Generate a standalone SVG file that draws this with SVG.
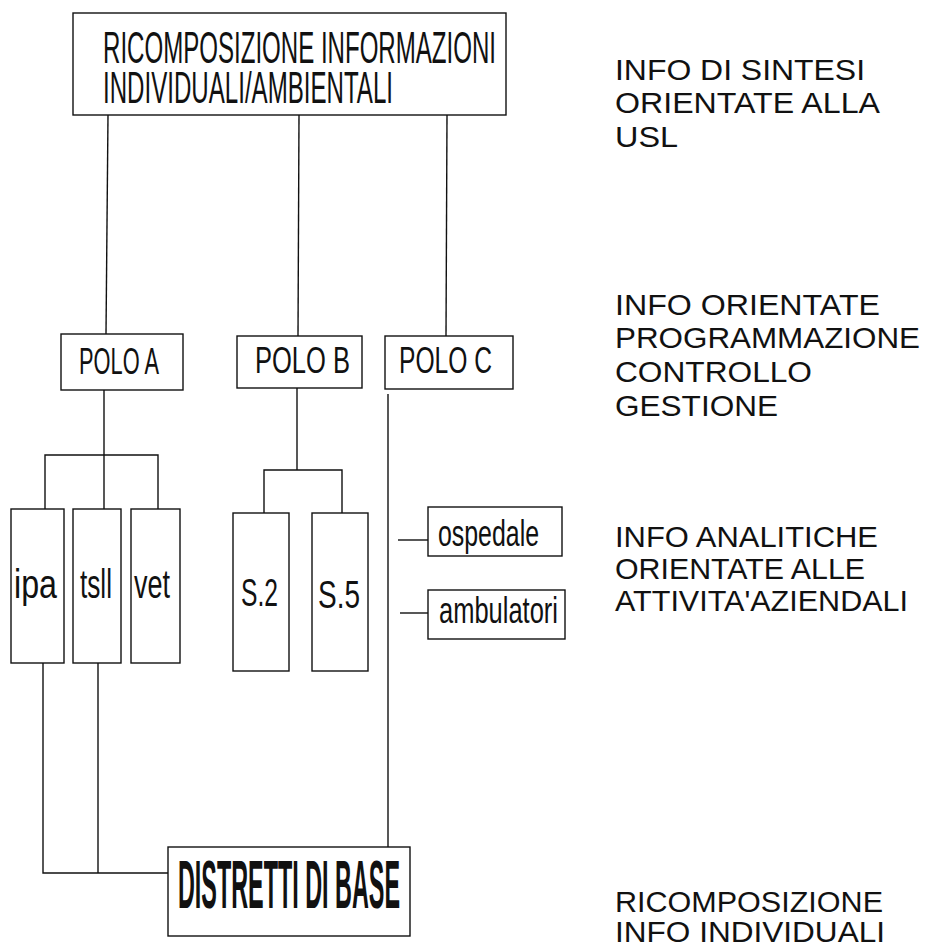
<svg xmlns="http://www.w3.org/2000/svg" width="936" height="945" viewBox="0 0 936 945">
<style>
  .box { fill: #fff; stroke: #111; stroke-width: 1.4; }
  .ln { fill: none; stroke: #111; stroke-width: 1.4; }
  .nar { font-family: "Liberation Sans Narrow", "Liberation Sans", Arial, sans-serif; fill: #111; }
  .side { font-family: "Liberation Sans", Arial, sans-serif; font-size: 29px; fill: #111; }
</style>
<rect width="936" height="945" fill="#fff"/>
<g id="connectors">
  <line class="ln" x1="108" y1="115" x2="106" y2="334"/>
  <line class="ln" x1="299" y1="115" x2="298" y2="336"/>
  <line class="ln" x1="447" y1="115" x2="446" y2="336"/>
  <polyline class="ln" points="104,390 104,509"/>
  <polyline class="ln" points="45,509 45,455 158,455 158,509"/>
  <polyline class="ln" points="297,388 297,470"/>
  <polyline class="ln" points="264,513 264,470 342,470 342,513"/>
  <line class="ln" x1="388" y1="394" x2="388" y2="847"/>
  <line class="ln" x1="398" y1="540" x2="428" y2="540"/>
  <line class="ln" x1="400" y1="613" x2="428" y2="613"/>
  <polyline class="ln" points="43,663 43,873 168,873"/>
  <line class="ln" x1="98" y1="663" x2="98" y2="873"/>
</g>
<g id="top">
  <rect class="box" x="73" y="13" width="433" height="102"/>
  <text class="nar" x="103" y="63" font-size="45" textLength="393" lengthAdjust="spacingAndGlyphs">RICOMPOSIZIONE INFORMAZIONI</text>
  <text class="nar" x="103" y="103" font-size="45" textLength="290" lengthAdjust="spacingAndGlyphs">INDIVIDUALI/AMBIENTALI</text>
</g>
<g id="poloA">
  <rect class="box" x="61" y="334" width="122" height="56"/>
  <text class="nar" x="79" y="374" font-size="36" textLength="80" lengthAdjust="spacingAndGlyphs">POLO A</text>
</g>
<g id="poloB">
  <rect class="box" x="237" y="336" width="125" height="52"/>
  <text class="nar" x="255" y="373" font-size="36" textLength="95" lengthAdjust="spacingAndGlyphs">POLO B</text>
</g>
<g id="poloC">
  <rect class="box" x="385" y="336" width="128" height="53"/>
  <text class="nar" x="399" y="373" font-size="36" textLength="93" lengthAdjust="spacingAndGlyphs">POLO C</text>
</g>
<g id="ipa">
  <rect class="box" x="11" y="509" width="53" height="154"/>
  <text class="nar" x="14" y="598" font-size="40" textLength="43" lengthAdjust="spacingAndGlyphs">ipa</text>
</g>
<g id="tsll">
  <rect class="box" x="73" y="509" width="48" height="154"/>
  <text class="nar" x="80" y="598" font-size="40" textLength="32" lengthAdjust="spacingAndGlyphs">tsll</text>
</g>
<g id="vet">
  <rect class="box" x="131" y="509" width="49" height="154"/>
  <text class="nar" x="134" y="598" font-size="40" textLength="36" lengthAdjust="spacingAndGlyphs">vet</text>
</g>
<g id="s2">
  <rect class="box" x="233" y="513" width="56" height="158"/>
  <text class="nar" x="241" y="606" font-size="38" textLength="37" lengthAdjust="spacingAndGlyphs">S.2</text>
</g>
<g id="s5">
  <rect class="box" x="312" y="513" width="56" height="158"/>
  <text class="nar" x="318" y="608" font-size="38" textLength="42" lengthAdjust="spacingAndGlyphs">S.5</text>
</g>
<g id="ospedale">
  <rect class="box" x="428" y="507" width="134" height="49"/>
  <text class="nar" x="438" y="546" font-size="37" textLength="101" lengthAdjust="spacingAndGlyphs">ospedale</text>
</g>
<g id="ambulatori">
  <rect class="box" x="428" y="590" width="137" height="49"/>
  <text class="nar" x="439" y="623" font-size="37" textLength="119" lengthAdjust="spacingAndGlyphs">ambulatori</text>
</g>
<g id="distretti">
  <rect class="box" x="168" y="847" width="242" height="89"/>
  <text class="nar" x="178" y="908" font-size="68" font-weight="bold" textLength="222" lengthAdjust="spacingAndGlyphs">DISTRETTI DI BASE</text>
</g>
<g id="labels">
  <text class="side" x="615" y="80" textLength="250" lengthAdjust="spacingAndGlyphs">INFO DI SINTESI</text>
  <text class="side" x="615" y="113" textLength="265" lengthAdjust="spacingAndGlyphs">ORIENTATE ALLA</text>
  <text class="side" x="615" y="147" textLength="63" lengthAdjust="spacingAndGlyphs">USL</text>
  <text class="side" x="615" y="315" textLength="265" lengthAdjust="spacingAndGlyphs">INFO ORIENTATE</text>
  <text class="side" x="615" y="348" textLength="305" lengthAdjust="spacingAndGlyphs">PROGRAMMAZIONE</text>
  <text class="side" x="615" y="382" textLength="197" lengthAdjust="spacingAndGlyphs">CONTROLLO</text>
  <text class="side" x="615" y="416" textLength="163" lengthAdjust="spacingAndGlyphs">GESTIONE</text>
  <text class="side" x="615" y="547" textLength="263" lengthAdjust="spacingAndGlyphs">INFO ANALITICHE</text>
  <text class="side" x="615" y="579" textLength="250" lengthAdjust="spacingAndGlyphs">ORIENTATE ALLE</text>
  <text class="side" x="615" y="611" textLength="293" lengthAdjust="spacingAndGlyphs">ATTIVITA'AZIENDALI</text>
  <text class="side" x="615" y="912" textLength="268" lengthAdjust="spacingAndGlyphs">RICOMPOSIZIONE</text>
  <text class="side" x="615" y="942" textLength="270" lengthAdjust="spacingAndGlyphs">INFO INDIVIDUALI</text>
</g>
</svg>
